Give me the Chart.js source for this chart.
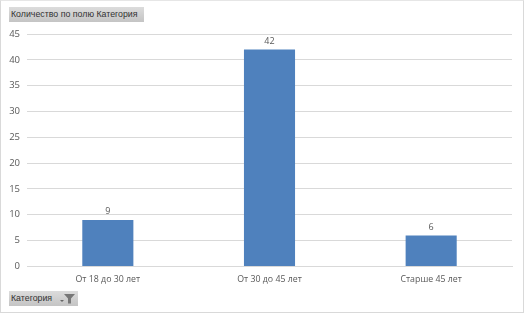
<!DOCTYPE html>
<html>
<head>
<meta charset="utf-8">
<script src="https://cdn.jsdelivr.net/npm/chart.js@4"></script>
<style>
    html, body { margin: 0; padding: 0; background: #fff; overflow: hidden; }
    #frame { position: absolute; left: 0; top: 0; width: 522px; height: 311px; border: 1px solid #d9d9d9; border-top-color: #e6e6e6; }
    #chart-box { position: absolute; left: 0; top: 0; width: 525px; height: 315px; }
    .field-btn {
        position: absolute; box-sizing: border-box; height: 15px; padding-left: 2px; white-space: nowrap;
        font: 8.8px/15px "Liberation Sans", sans-serif; color: #333;
        background: linear-gradient(#dcdcdc, #c4c4c4);
    }
    #value-btn { left: 9px; top: 7px; width: 135px; }
    #axis-btn { left: 9px; top: 291px; width: 69px; }
    #axis-btn svg { position: absolute; left: 49px; top: 2px; }
</style>
</head>
<body>
<div id="chart-box"><canvas id="bar-chart" width="525" height="315"></canvas></div>
<div id="frame"></div>
<div class="field-btn" id="value-btn">Количество по полю Категория</div>
<div class="field-btn" id="axis-btn">Категория
    <svg width="18" height="11"><path d="M2 7h4l-2 2z" fill="#666"/><path d="M6 1h11l-4 4.5v5h-3v-5z" fill="#777"/></svg>
</div>
<script>
    const categories = ['От 18 до 30 лет', 'От 30 до 45 лет', 'Старше 45 лет'];
    const counts = [9, 42, 6];
    const yTicks = [0, 5, 10, 15, 20, 25, 30, 35, 40, 45];

    // подписи значений над столбцами
    const barLabels = {
        id: 'barLabels',
        afterDatasetsDraw(chart) {
            const ctx = chart.ctx;
            ctx.save();
            ctx.font = '9px "Open Sans", sans-serif';
            ctx.fillStyle = '#595959';
            ctx.textAlign = 'center';
            ctx.textBaseline = 'bottom';
            chart.getDatasetMeta(0).data.forEach((bar, i) => {
                ctx.fillText(counts[i], bar.x, bar.y - 4);
            });
            ctx.restore();
        }
    };

    new Chart(document.getElementById('bar-chart').getContext('2d'), {
        type: 'bar',
        data: {
            labels: categories,
            datasets: [{
                data: counts,
                backgroundColor: '#4f81bd',
                barPercentage: 1,
                categoryPercentage: 0.316
            }]
        },
        options: {
            responsive: false,
            animation: false,
            layout: { padding: { left: 0, right: 13, top: 34, bottom: 22 } },
            plugins: { legend: { display: false }, tooltip: { enabled: false } },
            scales: {
                x: {
                    grid: { display: false, drawTicks: false },
                    border: { color: '#d9d9d9' },
                    ticks: { color: '#595959', font: { family: 'Open Sans', size: 8.8 }, padding: 8, maxRotation: 0 }
                },
                y: {
                    min: 0,
                    max: 45,
                    afterBuildTicks: axis => { axis.ticks = yTicks.map(value => ({ value })); },
                    afterFit: axis => { axis.width = 27; },
                    grid: { color: '#d9d9d9', drawTicks: false },
                    border: { display: false },
                    ticks: { color: '#595959', font: { family: 'Open Sans', size: 9.5 }, padding: 7 }
                }
            }
        },
        plugins: [barLabels]
    });
</script>
</body>
</html>
